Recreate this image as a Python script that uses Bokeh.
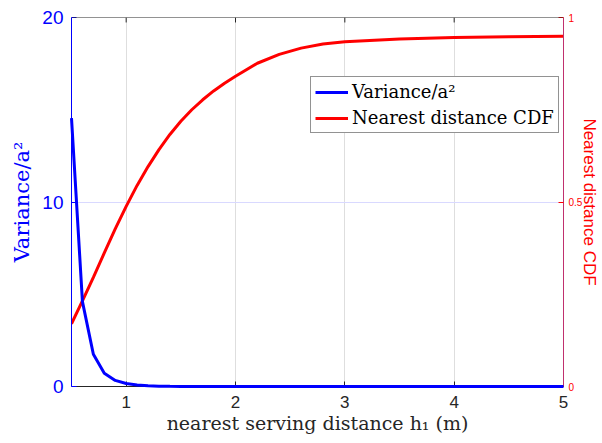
from bokeh.plotting import figure
from bokeh.models import Range1d, LinearAxis, FixedTicker, Legend, LegendItem, Span
from bokeh.embed import file_html
from bokeh.resources import INLINE

# ---- data ----
dist_var = [0.5, 0.6, 0.7, 0.8, 0.9, 1.0, 1.1, 1.2, 1.3, 1.4, 1.5, 2.0, 3.0, 4.0, 5.0]
variance = [14.55, 4.6, 1.75, 0.72, 0.33, 0.16, 0.08, 0.04, 0.02, 0.01, 0.005, 0.0, 0.0, 0.0, 0.0]

dist_cdf = [0.5, 0.6, 0.7, 0.8, 0.9, 1.0, 1.1, 1.2, 1.3, 1.4, 1.5, 1.6, 1.7, 1.8, 1.9,
            2.0, 2.2, 2.4, 2.6, 2.8, 3.0, 3.5, 4.0, 4.5, 5.0]
cdf = [0.17, 0.232, 0.296, 0.362, 0.427, 0.488, 0.545, 0.596, 0.642, 0.683, 0.719, 0.750, 0.777,
       0.801, 0.822, 0.841, 0.876, 0.900, 0.917, 0.928, 0.934, 0.942, 0.946, 0.948, 0.949]

x_ticks = [1, 2, 3, 4, 5]
left_ticks = [0, 10, 20]
right_ticks = [0, 0.5, 1]

BLUE = "#0000FF"
RED = "#FF0000"
DARK = "#262626"
SANS = "Liberation Sans"
SERIF = "DejaVu Serif"

p = figure(width=602, height=443, output_backend="svg", toolbar_location=None,
           x_range=Range1d(0.5, 5), y_range=Range1d(0, 20),
           min_border_left=71, min_border_right=39, min_border_top=17, min_border_bottom=57)
p.outline_line_color = None
p.background_fill_color = "white"
p.border_fill_color = "white"
p.extra_y_ranges = {"cdf": Range1d(0, 1)}

# grids
p.xgrid.ticker = FixedTicker(ticks=[1, 2, 3, 4])
p.xgrid.grid_line_color = "#dedede"
p.ygrid.ticker = FixedTicker(ticks=[10])
p.ygrid.grid_line_color = "#d9d9ff"

# bottom axis
xa = p.xaxis[0]
xa.ticker = FixedTicker(ticks=x_ticks)
xa.axis_line_color = DARK
xa.major_tick_line_color = DARK
xa.major_tick_in = 5
xa.major_tick_out = 0
xa.minor_tick_line_color = None
xa.major_label_text_color = DARK
xa.major_label_text_font = SANS
xa.major_label_text_font_size = "17px"
xa.major_label_standoff = 9
xa.axis_label = "nearest serving distance h\u2081 (m)"
xa.axis_label_text_font = SERIF
xa.axis_label_text_font_style = "normal"
xa.axis_label_text_font_size = "19px"
xa.axis_label_text_color = DARK
xa.axis_label_standoff = 1

# left axis
ya = p.yaxis[0]
ya.ticker = FixedTicker(ticks=left_ticks)
ya.axis_line_color = BLUE
ya.major_tick_line_color = BLUE
ya.major_tick_in = 5
ya.major_tick_out = 0
ya.minor_tick_line_color = None
ya.major_label_text_color = BLUE
ya.major_label_text_font = SANS
ya.major_label_text_font_size = "19px"
ya.major_label_standoff = 8
ya.axis_label = "Variance/a\u00b2"
ya.axis_label_text_font = SERIF
ya.axis_label_text_font_style = "normal"
ya.axis_label_text_font_size = "21px"
ya.axis_label_text_color = BLUE
ya.axis_label_standoff = 5

# top edge of the box with inward ticks
p.add_layout(Span(location=p.y_range.end, dimension="width", line_color=DARK, line_width=1))
tick_len = 0.27
p.segment(x0=x_ticks[:-1], y0=[p.y_range.end] * 4, x1=x_ticks[:-1],
          y1=[p.y_range.end - tick_len] * 4, line_color=DARK, line_width=1)

# right axis
ra = LinearAxis(y_range_name="cdf", ticker=FixedTicker(ticks=right_ticks),
                axis_line_color="#C0306E", major_tick_line_color=RED,
                major_tick_in=5, major_tick_out=0, minor_tick_line_color=None,
                major_label_text_color=RED, major_label_text_font=SANS,
                major_label_text_font_size="10px", major_label_standoff=5,
                major_label_overrides={0: "0", 0.5: "0.5", 1: "1"},
                axis_label="Nearest distance CDF", axis_label_text_font=SANS,
                axis_label_text_font_style="normal", axis_label_text_font_size="17px",
                axis_label_text_color=RED, axis_label_standoff=-5)
p.add_layout(ra, "right")

r_cdf = p.line(dist_cdf, cdf, y_range_name="cdf", line_color=RED, line_width=3)
r_var = p.line(dist_var, variance, line_color=BLUE, line_width=3, level="overlay")

legend = Legend(items=[LegendItem(label="Variance/a\u00b2", renderers=[r_var]),
                       LegendItem(label="Nearest distance CDF", renderers=[r_cdf])],
                location=(239, 253), margin=0, padding=4, spacing=5,
                glyph_width=33, glyph_height=20, label_standoff=4,
                label_text_font=SERIF, label_text_font_size="18px",
                label_text_color="black", border_line_color=DARK,
                border_line_width=1, background_fill_color="white",
                background_fill_alpha=1.0)
p.add_layout(legend, "center")

open("out.html", "w").write(file_html(p, INLINE))
